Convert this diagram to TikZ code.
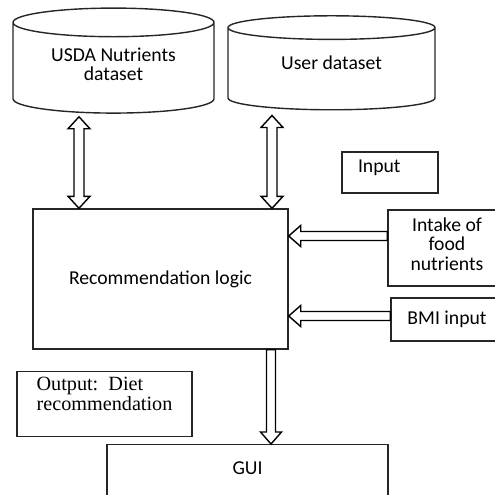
\documentclass[tikz,border=0pt]{standalone}
\usepackage{fontspec}
\setmainfont{Carlito}
\newfontfamily\outfont{Liberation Serif}
\usetikzlibrary{shapes.geometric,calc}

\tikzset{
    hollowarrow/.style={to path={
        let \p1=($(\tikztotarget)!0.24cm!(\tikztostart)$) in
        ($(\tikztostart)!0.09cm!90:(\tikztotarget)$)
        -- ($(\p1)!0.09cm!90:(\tikztotarget)$)
        -- ($(\p1)!0.21cm!90:(\tikztotarget)$)
        -- (\tikztotarget)
        -- ($(\p1)!0.21cm!-90:(\tikztotarget)$)
        -- ($(\p1)!0.09cm!-90:(\tikztotarget)$)
        -- ($(\tikztostart)!0.09cm!-90:(\tikztotarget)$)
        -- cycle}},
    hollowboth/.style={to path={
        let \p1=($(\tikztotarget)!0.24cm!(\tikztostart)$),
            \p2=($(\tikztostart)!0.24cm!(\tikztotarget)$) in
        (\tikztostart)
        -- ($(\p2)!0.22cm!90:(\tikztotarget)$)
        -- ($(\p2)!0.1cm!90:(\tikztotarget)$)
        -- ($(\p1)!0.1cm!90:(\tikztotarget)$)
        -- ($(\p1)!0.22cm!90:(\tikztotarget)$)
        -- (\tikztotarget)
        -- ($(\p1)!0.22cm!-90:(\tikztotarget)$)
        -- ($(\p1)!0.1cm!-90:(\tikztotarget)$)
        -- ($(\p2)!0.1cm!-90:(\tikztotarget)$)
        -- ($(\p2)!0.22cm!-90:(\tikztotarget)$)
        -- cycle}},
    }

\begin{document}
\begin{tikzpicture}[
font=\fontsize{11.2}{11}\selectfont,
dbnode/.style={cylinder, shape border rotate=90, draw=black!85, thick, aspect=0.21, align=center},
boxnode/.style={rectangle, draw=black!85, thick, align=center},
]
\useasboundingbox (0,0) rectangle (9.9,-9.9);

\node[dbnode, minimum width=4.02cm, minimum height=2.1cm, text depth=0.24cm] (usda) at (2.27,-1.41) {USDA Nutrients\\dataset};
\node[dbnode, minimum width=4.14cm, minimum height=1.88cm, text depth=0.32cm] (usr) at (6.63,-1.42) {User dataset};

\node[boxnode, minimum width=1.92cm, minimum height=0.82cm, inner xsep=0.32cm, text width=1.28cm, align=left, text depth=0.25cm] (input) at (7.8,-3.45) {Input};
\node[boxnode, minimum width=5.1cm, minimum height=2.8cm] (logic) at (3.21,-5.58) {Recommendation logic};
\node[boxnode, minimum width=2.36cm, minimum height=1.52cm, text depth=0.16cm] (intake) at (8.94,-4.96) {Intake of\\food\\nutrients};
\node[boxnode, minimum width=2.24cm, minimum height=0.86cm] (bmi) at (8.94,-6.39) {BMI input};
\node[boxnode, minimum width=3.5cm, minimum height=1.16cm, align=left, text depth=0.4cm, font=\outfont\fontsize{11.5}{10.2}\selectfont] (output) at (2.09,-8.08) {Output:\ \ Diet\\recommendation};
\node[boxnode, anchor=north, minimum width=5.62cm, minimum height=1.4cm, text depth=0.45cm] (gui) at (4.95,-8.88) {GUI};

\draw[thick, hollowboth] ([xshift=-0.69cm, yshift=-0.06cm]usda.bottom) to ([xshift=-1.63cm]logic.north);
\draw[thick, hollowboth] ([xshift=-1.19cm, yshift=-0.1cm]usr.bottom) to ([xshift=2.23cm]logic.north);
\draw[thick, hollowarrow] ([yshift=0.24cm]intake.west) to ([yshift=0.24cm]intake.west -| logic.east);
\draw[thick, hollowarrow] ([yshift=0.07cm]bmi.west) to ([yshift=0.07cm]bmi.west -| logic.east);
\draw[thick, hollowarrow] ([xshift=2.21cm]logic.south) to ([xshift=0.47cm]gui.north);
\end{tikzpicture}
\end{document}
